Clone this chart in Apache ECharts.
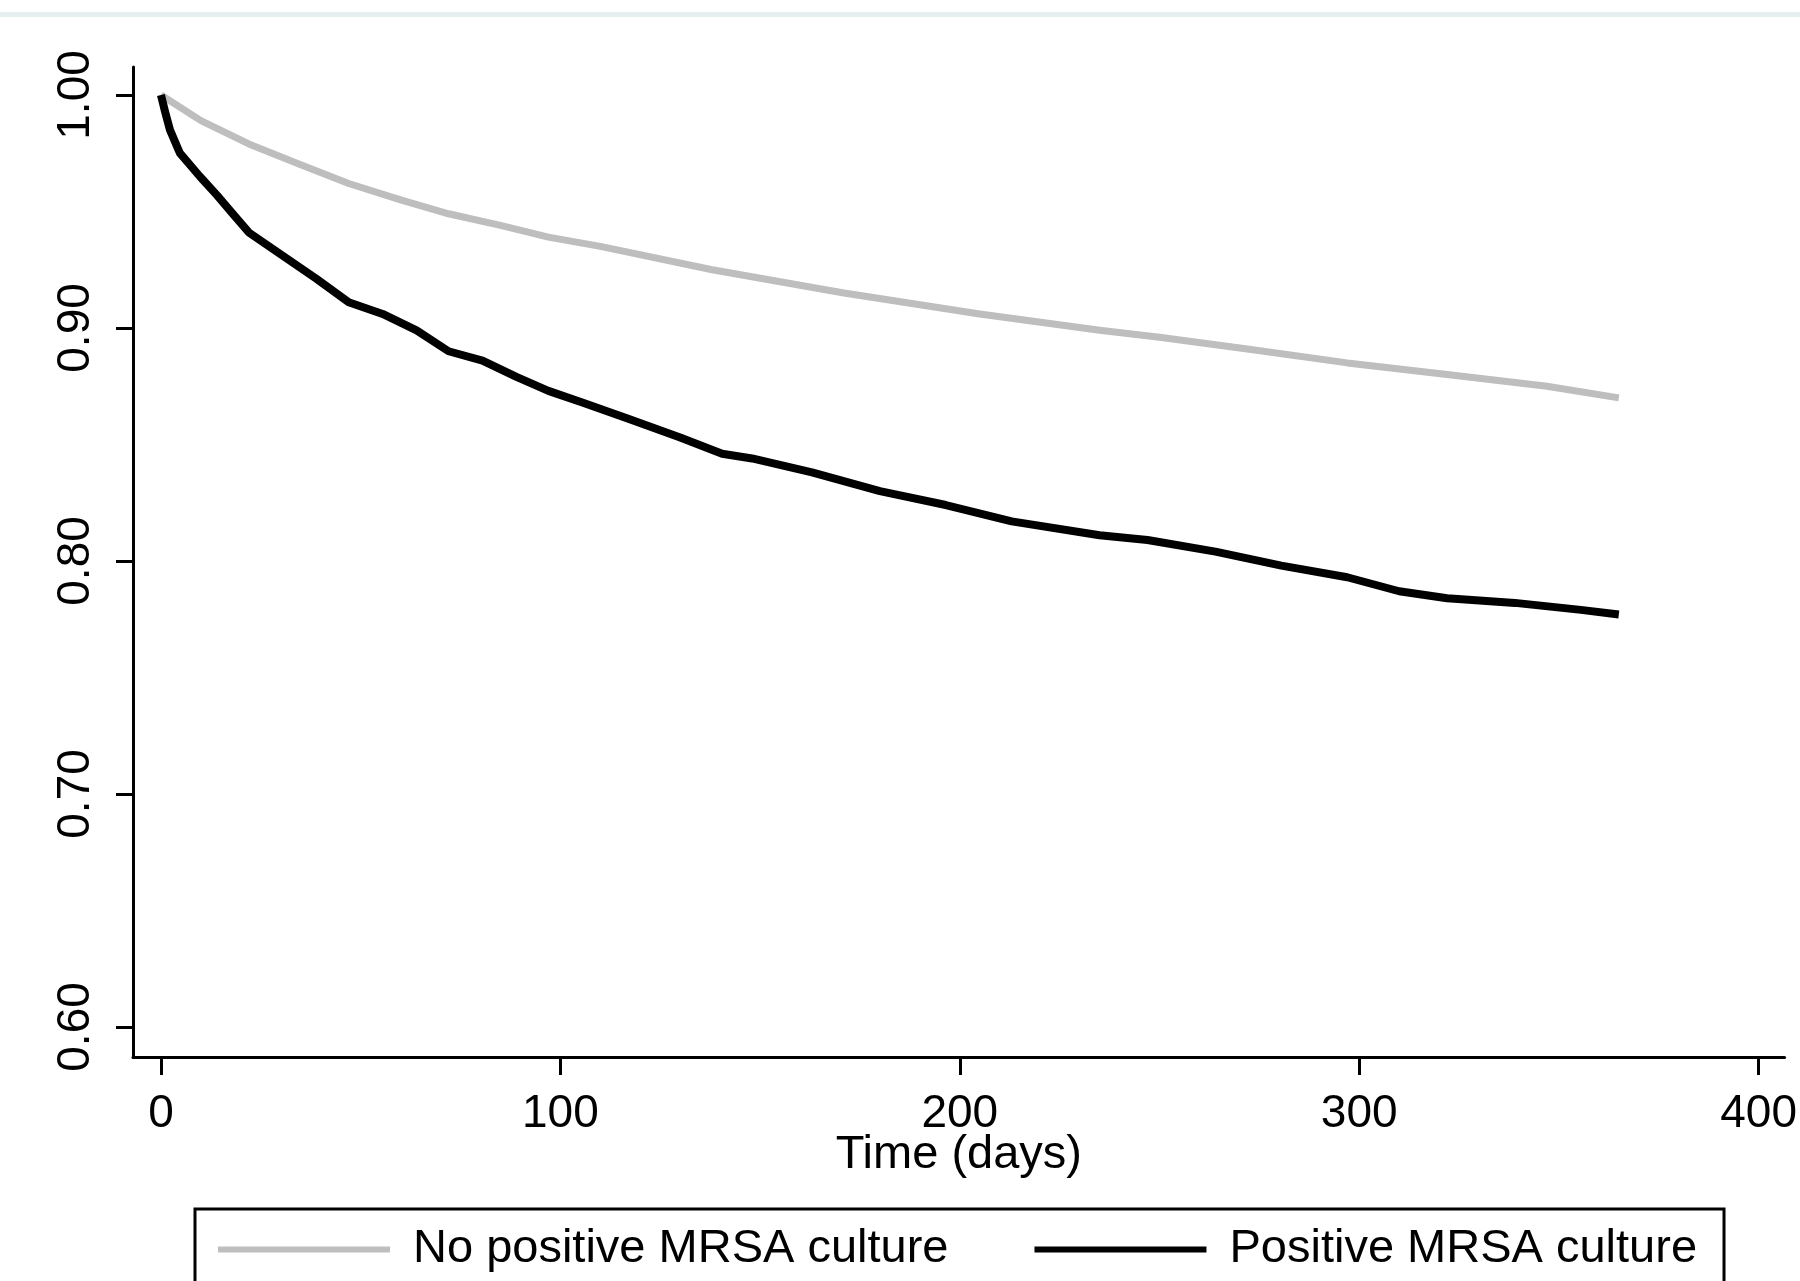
<!DOCTYPE html>
<html>
<head>
<meta charset="utf-8">
<script src="https://cdn.jsdelivr.net/npm/echarts@6/dist/echarts.min.js"></script>
<style>
    html, body { margin: 0; padding: 0; background: #fff; }
    #chart { width: 1800px; height: 1281px; }
</style>
</head>
<body>
<div id="chart"></div>
<script>
// survival curves
var noPosDays = [0, 10, 22, 35, 47, 60, 72, 85, 97, 110, 138, 171, 205, 235, 250, 272, 297, 322, 347, 365];
var noPosSurv = [1.000, 0.989, 0.979, 0.970, 0.962, 0.955, 0.949, 0.944, 0.939, 0.935, 0.925, 0.915, 0.906, 0.899, 0.896, 0.891, 0.885, 0.880, 0.875, 0.870];

var posDays = [0, 1, 2.25, 4.75, 9.75, 14, 18, 22, 30.5, 39, 47, 55.5, 64, 72, 80.5, 89, 97, 105.5, 117, 130, 140.5, 148, 163, 180, 196.5, 213, 235, 247, 264, 280.5, 297, 310, 322, 339, 355.5, 365];
var posSurv = [1.000, 0.993, 0.985, 0.975, 0.965, 0.957, 0.949, 0.941, 0.931, 0.921, 0.911, 0.906, 0.899, 0.890, 0.886, 0.879, 0.873, 0.868, 0.861, 0.853, 0.846, 0.844, 0.838, 0.830, 0.824, 0.817, 0.811, 0.809, 0.804, 0.798, 0.793, 0.787, 0.784, 0.782, 0.779, 0.777];

var xTicks = [0, 100, 200, 300, 400];
var yTicks = [0.6, 0.7, 0.8, 0.9, 1.0];

var seriesNames = ['No positive MRSA culture', 'Positive MRSA culture'];

function pairs(xs, ys) {
    var out = [];
    for (var i = 0; i < xs.length; i++) {
        out.push([xs[i], ys[i]]);
    }
    return out;
}

var font = '"Liberation Sans", Arial, sans-serif';
var chart = echarts.init(document.getElementById('chart'));

var option = {
    animation: false,
    backgroundColor: '#fff',
    graphic: [{
        type: 'rect',
        shape: { x: 0, y: 12, width: 1800, height: 5 },
        style: { fill: '#e6efef' }
    }],
    grid: { left: 133, right: 13, top: 67, bottom: 224, containLabel: false },
    legend: {
        left: 195,
        top: 1209,
        orient: 'horizontal',
        icon: 'rect',
        itemWidth: 172,
        itemHeight: 6,
        itemGap: 86,
        padding: [17, 27, 17, 23],
        borderColor: '#000',
        borderWidth: 3,
        borderRadius: 0,
        data: seriesNames,
        textStyle: {
            fontFamily: font,
            fontSize: 47,
            color: '#000',
            padding: [0, 0, 0, 18]
        }
    },
    xAxis: {
        type: 'value',
        min: -7,
        max: 406.5,
        name: 'Time (days)',
        nameLocation: 'middle',
        nameGap: 75,
        nameMoveOverlap: false,
        nameTextStyle: { fontFamily: font, fontSize: 47, color: '#000' },
        axisLine: { show: true, onZero: false, lineStyle: { color: '#000', width: 3 } },
        axisTick: { show: true, length: 18, lineStyle: { color: '#000', width: 3 }, customValues: xTicks },
        axisLabel: {
            fontFamily: font, fontSize: 46, color: '#000', margin: 34,
            customValues: xTicks,
            formatter: function (v) { return String(v); }
        },
        splitLine: { show: false }
    },
    yAxis: {
        type: 'value',
        min: 0.5871,
        max: 1.012,
        axisLine: { show: true, onZero: false, lineStyle: { color: '#000', width: 3 } },
        axisTick: { show: true, length: 17, lineStyle: { color: '#000', width: 3 }, customValues: yTicks },
        axisLabel: {
            fontFamily: font, fontSize: 46, color: '#000', margin: 34, rotate: 90,
            customValues: yTicks,
            formatter: function (v) { return v.toFixed(2); }
        },
        splitLine: { show: false }
    },
    series: [
        {
            name: seriesNames[0],
            type: 'line',
            symbol: 'none',
            color: '#bebebe',
            lineStyle: { color: '#bebebe', width: 7, join: 'round' },
            data: pairs(noPosDays, noPosSurv)
        },
        {
            name: seriesNames[1],
            type: 'line',
            symbol: 'none',
            color: '#000',
            lineStyle: { color: '#000', width: 8, join: 'round' },
            data: pairs(posDays, posSurv)
        }
    ]
};

chart.setOption(option);
</script>
</body>
</html>
